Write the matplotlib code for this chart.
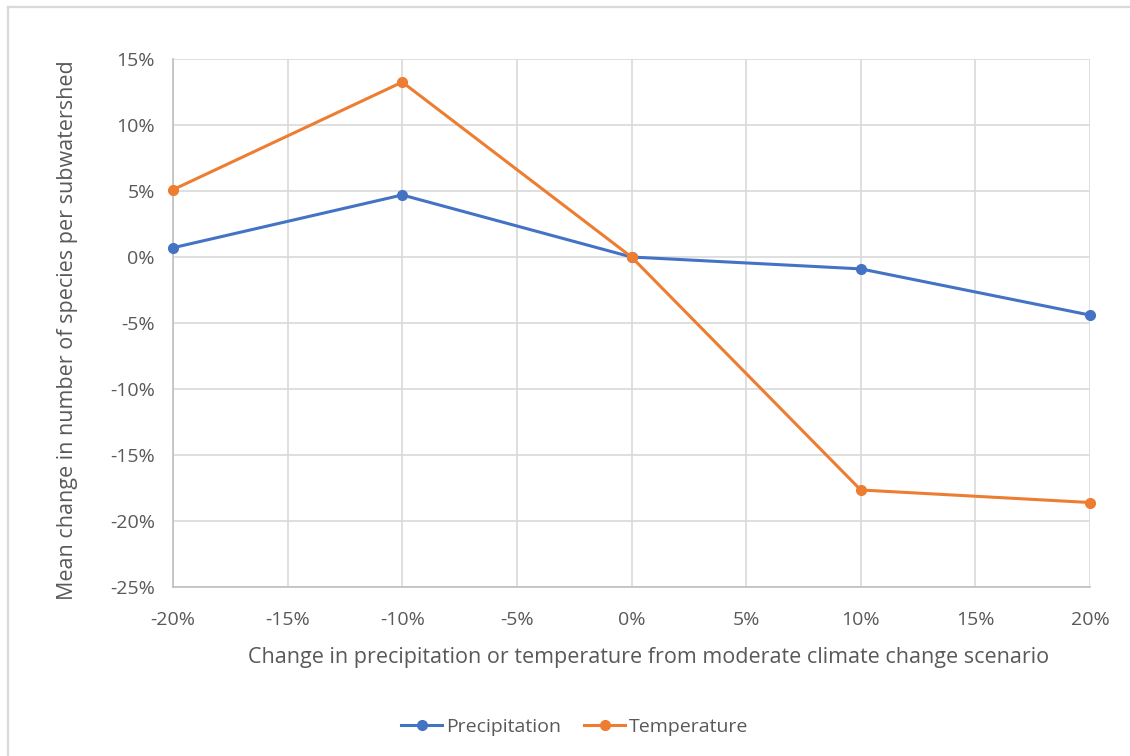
import matplotlib
matplotlib.use("Agg")
import matplotlib.pyplot as plt
from matplotlib.lines import Line2D
from matplotlib.ticker import FuncFormatter, MultipleLocator

x_vals = [-20, -10, 0, 10, 20]
precipitation = [0.7, 4.7, 0.0, -0.9, -4.4]
temperature = [5.1, 13.25, 0.0, -17.65, -18.6]
series_names = ["Precipitation", "Temperature"]
colors = ["#4472C4", "#ED7D31"]

plt.rcParams['font.family'] = ['Open Sans', 'DejaVu Sans']
txt = "#595959"

fig = plt.figure(figsize=(11.30, 7.56), dpi=100)
bx, by = 8 / 1130, 1 - 6.5 / 756
fig.add_artist(Line2D([bx, 1], [by, by], transform=fig.transFigure, color="#d9d9d9", lw=1.6))
fig.add_artist(Line2D([bx, bx], [0, by], transform=fig.transFigure, color="#d9d9d9", lw=1.6))

ax = fig.add_axes([173/1130, (756-587)/756, 917/1130, 528/756])
ax.plot(x_vals, precipitation, color=colors[0], lw=2.2, marker='o', ms=7, label=series_names[0], zorder=3, clip_on=False)
ax.plot(x_vals, temperature, color=colors[1], lw=2.2, marker='o', ms=7, label=series_names[1], zorder=3, clip_on=False)

ax.set_xlim(-20, 20)
ax.set_ylim(-25, 15)
ax.xaxis.set_major_locator(MultipleLocator(5))
ax.yaxis.set_major_locator(MultipleLocator(5))
fmt = FuncFormatter(lambda v, p: f"{v:.0f}%")
ax.xaxis.set_major_formatter(fmt)
ax.yaxis.set_major_formatter(fmt)
ax.grid(True, color="#d9d9d9", lw=1.2)
ax.set_axisbelow(True)
for s in ["top", "right"]:
    ax.spines[s].set_visible(False)
for s in ["left", "bottom"]:
    ax.spines[s].set_color("#bfbfbf")
    ax.spines[s].set_linewidth(1.2)
ax.tick_params(length=0, labelsize=14, labelcolor=txt)
ax.tick_params(axis='x', pad=17)
ax.tick_params(axis='y', pad=13)

ax.set_xlabel("Change in precipitation or temperature from moderate climate change scenario",
              fontsize=15.5, color=txt)
ax.set_ylabel("Mean change in number of species per subwatershed", fontsize=15.5, color=txt)
ax.xaxis.set_label_coords((649 - 173) / 917, (587 - 658) / 528)
ax.xaxis.label.set_va('center')
ax.yaxis.set_label_coords((68 - 173) / 917, (587 - 330) / 528)
ax.yaxis.label.set_va('center')
ax.yaxis.label.set_ha('center')

fig.legend(loc='center', bbox_to_anchor=(575/1130, 1 - 727/756), ncol=2, frameon=False,
           fontsize=14, labelcolor=txt, handlelength=2.1, columnspacing=1.2, handletextpad=0.2)

fig.savefig("out.png", dpi=100, facecolor="white")
